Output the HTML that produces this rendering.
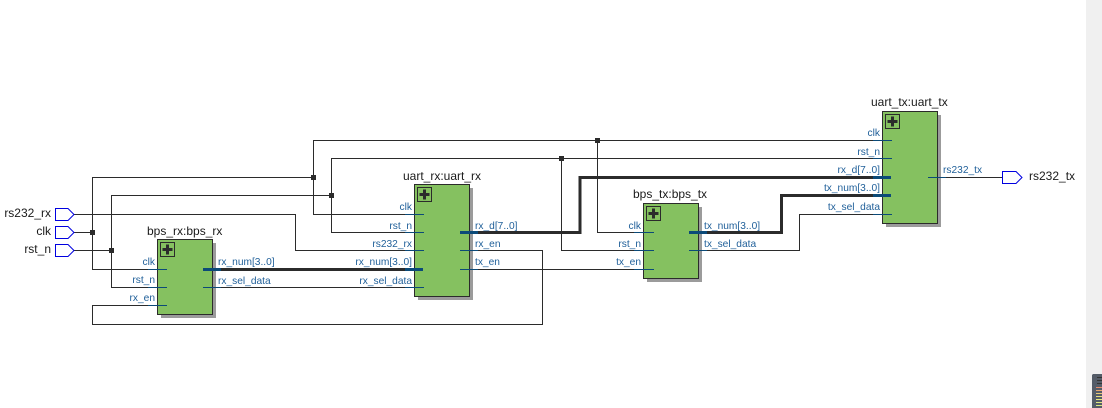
<!DOCTYPE html>
<html><head><meta charset="utf-8"><style>
html,body{margin:0;padding:0;background:#fff;width:1102px;height:408px;overflow:hidden}
svg{display:block}
text{font-family:"Liberation Sans",sans-serif}
.w{fill:none;stroke:#2b2b2b;stroke-width:1}
.b{fill:none;stroke:#2b2b2b;stroke-width:3}
.pb{fill:none;stroke:#0b4a78;stroke-width:1}
.pbt{fill:none;stroke:#0b4a78;stroke-width:3}
.p{font-size:10.2px;fill:#1f5f99}
.t{font-size:12px;fill:#1a1a1a}
.blk{fill:#85c160;stroke:#2b2b2b;stroke-width:1}
.sh{fill:#9b9b9b}
.pin{fill:#fff;stroke:#0000e0;stroke-width:1}
.ic{fill:none;stroke:#2b2b2b;stroke-width:1}
.j{fill:#2b2b2b}
</style></head><body>
<svg width="1102" height="408" viewBox="0 0 1102 408" xmlns="http://www.w3.org/2000/svg">
<rect x="1086" y="0" width="16" height="408" fill="#f0f0f0"/>
<path d="M1093 374H1102V408H1092V375Z" fill="#545c68"/>
<g>
<rect x="1097" y="377" width="5" height="1" fill="#333"/>
<rect x="1097" y="380" width="5" height="1" fill="#333"/>
<rect x="1097" y="383" width="5" height="1" fill="#333"/>
<rect x="1096" y="387" width="6" height="1" fill="#e58a6a"/>
<rect x="1096" y="390" width="6" height="1" fill="#e8a870"/>
<rect x="1096" y="393" width="6" height="1" fill="#e8c878"/>
<rect x="1096" y="396" width="6" height="1" fill="#e8e080"/>
<rect x="1096" y="399" width="6" height="1" fill="#e8e880"/>
<rect x="1096" y="402" width="6" height="1" fill="#e0e880"/>
<rect x="1096" y="405" width="6" height="1" fill="#d8e880"/>
</g>

<!-- shadows -->
<rect class="sh" x="161" y="243" width="55" height="75"/>
<rect class="sh" x="418" y="188" width="55" height="112"/>
<rect class="sh" x="647" y="207" width="55" height="75"/>
<rect class="sh" x="886" y="115" width="55" height="112"/>
<!-- blocks -->
<rect class="blk" x="157.5" y="239.5" width="55" height="75"/>
<rect class="blk" x="414.5" y="184.5" width="55" height="112"/>
<rect class="blk" x="643.5" y="203.5" width="55" height="75"/>
<rect class="blk" x="882.5" y="111.5" width="55" height="112"/>

<!-- plus icons -->
<g id="i1"><rect class="ic" x="160.5" y="242.5" width="14" height="14"/><path d="M167.5 244.5v10M162.5 249.5h10" stroke="#2b2b2b" stroke-width="3" fill="none"/></g>
<g><rect class="ic" x="417.5" y="187.5" width="14" height="14"/><path d="M424.5 189.5v10M419.5 194.5h10" stroke="#2b2b2b" stroke-width="3" fill="none"/></g>
<g><rect class="ic" x="646.5" y="206.5" width="14" height="14"/><path d="M653.5 208.5v10M648.5 213.5h10" stroke="#2b2b2b" stroke-width="3" fill="none"/></g>
<g><rect class="ic" x="885.5" y="114.5" width="14" height="14"/><path d="M892.5 116.5v10M887.5 121.5h10" stroke="#2b2b2b" stroke-width="3" fill="none"/></g>

<!-- wires -->
<path class="w" d="M74 214.5H295.5V250.5H405"/>
<path class="w" d="M74 232.5H92.5"/>
<path class="w" d="M74 250.5H111.5"/>
<path class="w" d="M148 269.5H92.5V177.5H313.5"/>
<path class="w" d="M148 287.5H111.5V195.5H331.5"/>
<path class="w" d="M148 305.5H92.5V324.5H542.5V250.5H478"/>
<path class="w" d="M405 214.5H313.5V140.5H873"/>
<path class="w" d="M405 232.5H331.5V158.5H873"/>
<path class="w" d="M221 287.5H405"/>
<path class="w" d="M597.5 140.5V232.5H634"/>
<path class="w" d="M561.5 158.5V250.5H634"/>
<path class="w" d="M478 269.5H634"/>
<path class="w" d="M707 250.5H799.5V214.5H873"/>
<path class="w" d="M946 177.5H1002"/>
<path class="b" d="M221 269.5H405"/>
<path class="b" d="M478 232.5H580V177.5H873"/>
<path class="b" d="M707 232.5H781.5V195.5H873"/>

<!-- port stubs -->
<path class="pb" d="M148 269.5H167M148 287.5H167M148 305.5H167M203 287.5H221"/>
<path class="pbt" d="M203 269.5H221M405 269.5H423"/>
<path class="pb" d="M405 214.5H424M405 232.5H424M405 250.5H424M405 287.5H424M460 250.5H478M460 269.5H478"/>
<path class="pbt" d="M460 232.5H478"/>
<path class="pb" d="M634 232.5H654M634 250.5H654M634 269.5H654M689 250.5H707"/>
<path class="pbt" d="M689 232.5H707"/>
<path class="pb" d="M873 140.5H892M873 158.5H892M873 214.5H892M928 177.5H946"/>
<path class="pbt" d="M873 177.5H891M873 195.5H891"/>

<!-- junctions -->
<rect class="j" x="90" y="230" width="5" height="5"/>
<rect class="j" x="109" y="248" width="5" height="5"/>
<rect class="j" x="311" y="175" width="5" height="5"/>
<rect class="j" x="329" y="193" width="5" height="5"/>
<rect class="j" x="559" y="156" width="5" height="5"/>
<rect class="j" x="595" y="138" width="5" height="5"/>

<!-- pins -->
<path class="pin" d="M55.5 208.5H68L74 214.5L68 220.5H55.5Z"/>
<path class="pin" d="M55.5 226.5H68L74 232.5L68 238.5H55.5Z"/>
<path class="pin" d="M55.5 244.5H68L74 250.5L68 256.5H55.5Z"/>
<path class="pin" d="M1002.5 171.5H1016L1022 177.5L1016 183.5H1002.5Z"/>

<!-- pin labels -->
<text class="t" x="51" y="217" text-anchor="end">rs232_rx</text>
<text class="t" x="51" y="235" text-anchor="end">clk</text>
<text class="t" x="51" y="253" text-anchor="end">rst_n</text>
<text class="t" x="1029" y="180">rs232_tx</text>

<!-- block titles -->
<text class="t" x="147" y="235">bps_rx:bps_rx</text>
<text class="t" x="403" y="180">uart_rx:uart_rx</text>
<text class="t" x="633" y="198">bps_tx:bps_tx</text>
<text class="t" x="871" y="106">uart_tx:uart_tx</text>

<!-- port labels -->
<g class="p">
<text class="p" x="155" y="265" text-anchor="end">clk</text>
<text class="p" x="155" y="283" text-anchor="end">rst_n</text>
<text class="p" x="155" y="301" text-anchor="end">rx_en</text>
<text class="p" x="218" y="265">rx_num[3..0]</text>
<text class="p" x="218" y="284">rx_sel_data</text>

<text class="p" x="412" y="210" text-anchor="end">clk</text>
<text class="p" x="412" y="229" text-anchor="end">rst_n</text>
<text class="p" x="412" y="247" text-anchor="end">rs232_rx</text>
<text class="p" x="412" y="265" text-anchor="end">rx_num[3..0]</text>
<text class="p" x="412" y="284" text-anchor="end">rx_sel_data</text>
<text class="p" x="475" y="229">rx_d[7..0]</text>
<text class="p" x="475" y="247">rx_en</text>
<text class="p" x="475" y="265">tx_en</text>

<text class="p" x="641" y="229" text-anchor="end">clk</text>
<text class="p" x="641" y="247" text-anchor="end">rst_n</text>
<text class="p" x="641" y="265" text-anchor="end">tx_en</text>
<text class="p" x="704" y="229">tx_num[3..0]</text>
<text class="p" x="704" y="247">tx_sel_data</text>

<text class="p" x="880" y="136" text-anchor="end">clk</text>
<text class="p" x="880" y="155" text-anchor="end">rst_n</text>
<text class="p" x="880" y="173" text-anchor="end">rx_d[7..0]</text>
<text class="p" x="880" y="191" text-anchor="end">tx_num[3..0]</text>
<text class="p" x="880" y="210" text-anchor="end">tx_sel_data</text>
<text class="p" x="943" y="173">rs232_tx</text>
</g>
</svg>
</body></html>
